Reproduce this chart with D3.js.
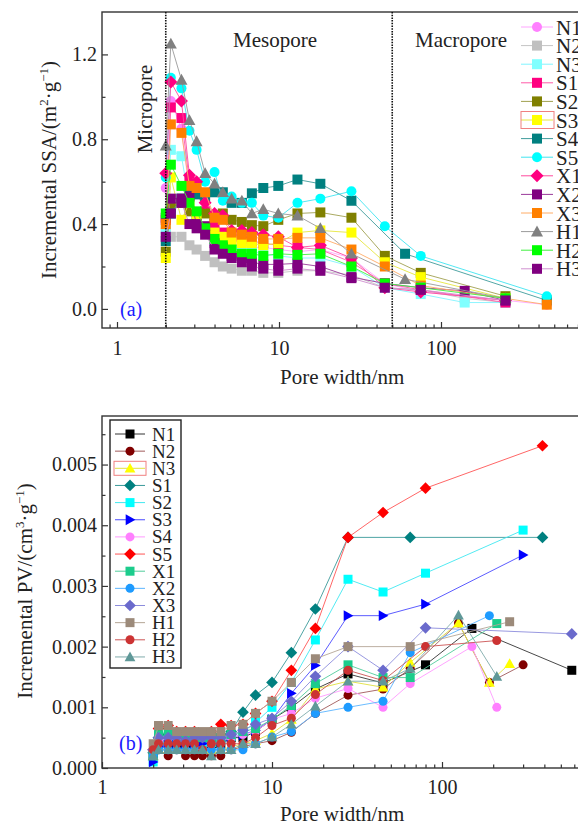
<!DOCTYPE html>
<html lang="en">
<head>
<meta charset="utf-8">
<title>Incremental SSA and PV vs pore width</title>
<script src="https://cdn.jsdelivr.net/npm/d3@7"></script>
<style>
  body { margin: 0; background: #fff; }
  svg { display: block; }
  text { font-family: "Liberation Serif", "DejaVu Serif", "Times New Roman", serif; }
  .tick text { font-size: 20px; fill: #222; }
  .tick line { stroke: #333; stroke-width: 1.2px; }
  .lbl { font-size: 21px; fill: #222; }
</style>
</head>
<body>
<svg width="578" height="823"></svg>
<script>
// ---------- (a) incremental SSA, m2/g ----------
const ssaWidth = [2.0, 2.15, 2.5, 2.8, 3.1, 3.5, 4.0, 4.5, 5.1, 5.9, 6.8, 8.0, 9.9, 13, 18, 28, 45, 60, 75, 140, 250, 450];
const ssaN1 = [0.57, 0.98, 0.85, 0.55, 0.45, 0.38, 0.34, 0.32, 0.30, 0.30, 0.29, 0.29, 0.28, 0.27, 0.28, 0.24, 0.12, null, 0.08, 0.06, null, 0.02];
const ssaN2 = [0.36, 0.34, 0.34, 0.30, 0.28, 0.25, 0.22, 0.20, 0.19, 0.18, 0.18, 0.17, 0.17, 0.18, 0.18, 0.16, 0.10, null, 0.09, 0.05, 0.03, null];
const ssaN3 = [0.38, 0.75, 0.72, 0.50, 0.42, 0.36, 0.32, 0.30, 0.28, 0.28, 0.27, 0.26, 0.25, 0.24, 0.24, 0.20, 0.10, null, 0.07, 0.03, 0.03, null];
const ssaS1 = [0.42, 0.95, 0.90, 0.60, 0.55, 0.46, 0.40, 0.36, 0.34, 0.33, 0.32, 0.31, 0.30, 0.29, 0.28, 0.22, 0.12, null, 0.09, null, 0.03, null];
const ssaS2 = [0.27, 0.48, 0.50, 0.46, 0.44, 0.45, 0.44, 0.45, 0.42, 0.41, 0.395, 0.39, 0.42, 0.45, 0.455, 0.43, 0.25, null, 0.17, null, 0.06, null];
const ssaS3 = [0.24, 0.62, 0.42, 0.50, 0.42, 0.37, 0.36, 0.34, 0.32, 0.31, 0.31, 0.30, 0.31, 0.36, 0.37, 0.36, 0.22, null, 0.15, null, 0.05, null];
const ssaS4 = [0.32, 0.45, 0.52, 0.54, 0.54, 0.53, 0.55, 0.55, 0.50, 0.50, 0.545, 0.57, 0.58, 0.61, 0.59, 0.51, null, 0.26, null, null, null, 0.04];
const ssaS5 = [0.62, 1.09, 1.04, 0.84, 0.75, 0.60, 0.645, 0.51, 0.53, 0.50, 0.50, 0.44, 0.43, 0.50, 0.52, 0.555, 0.39, null, 0.25, null, null, 0.06];
const ssaX1 = [0.64, 1.07, 0.98, 0.63, 0.60, 0.50, 0.45, 0.44, 0.37, 0.37, 0.36, 0.35, 0.34, 0.29, 0.30, 0.24, 0.10, null, 0.08, null, 0.04, null];
const ssaX2 = [0.43, 0.52, 0.52, 0.53, 0.40, 0.39, 0.31, 0.29, 0.25, 0.24, 0.22, 0.21, 0.21, 0.215, 0.20, 0.15, 0.12, null, 0.10, 0.085, 0.04, null];
const ssaX3 = [0.40, 0.87, 0.83, 0.58, 0.57, 0.55, 0.43, 0.42, 0.36, 0.35, 0.34, 0.33, 0.33, 0.335, 0.335, 0.28, 0.20, null, 0.11, null, null, 0.02];
const ssaH1 = [0.77, 1.25, 1.08, 0.89, 0.79, 0.64, 0.59, 0.55, 0.52, 0.51, 0.45, 0.47, 0.45, 0.44, 0.38, 0.26, null, 0.14, null, null, 0.05, null];
const ssaH2 = [0.45, 0.68, 0.58, 0.50, 0.46, 0.38, 0.33, 0.30, 0.28, 0.26, 0.26, 0.25, 0.26, 0.255, 0.26, 0.20, 0.12, null, 0.10, null, 0.05, null];
const ssaH3 = [0.34, 0.45, 0.50, 0.40, 0.38, 0.35, 0.28, 0.26, 0.24, 0.22, 0.20, 0.19, 0.18, 0.19, 0.18, 0.145, 0.10, null, 0.09, null, 0.04, null];

// ---------- (b) incremental PV, 10^-3 cm3/g ----------
const pvWidth = [2.0, 2.15, 2.45, 2.75, 3.1, 3.5, 3.9, 4.4, 5.0, 5.75, 6.75, 8.0, 10, 13, 18, 28, 45, 65, 80, 125, 150, 190, 210, 250, 300, 390, 580];
const pvN1 = [0.20, 0.40, 0.40, 0.40, 0.40, 0.40, 0.40, 0.40, 0.40, 0.50, 0.50, 0.60, 0.80, 1.00, 1.30, 1.55, 1.40, null, 1.70, null, 2.30, null, null, null, null, null, 1.61];
const pvN2 = [0.25, 0.30, 0.20, 0.30, 0.20, 0.20, 0.20, 0.20, 0.20, 0.30, 0.35, 0.40, 0.45, 0.59, 0.90, 1.20, 1.30, 1.64, null, 2.39, null, 1.41, null, null, 1.70, null, null];
const pvN3 = [0.20, 0.30, 0.30, 0.30, 0.30, 0.30, 0.30, 0.30, 0.30, 0.35, 0.40, 0.45, 0.57, 0.80, 1.30, 1.43, 1.33, 1.74, null, 2.39, null, 1.41, null, 1.72, null, null, null];
const pvS1 = [0.25, 0.50, 0.55, 0.55, 0.50, 0.50, 0.50, 0.55, 0.55, 0.60, 0.92, 1.20, 1.41, 1.90, 2.62, 3.80, null, 3.80, null, null, null, null, null, null, null, 3.80, null];
const pvS2 = [0.10, 0.35, 0.45, 0.45, 0.45, 0.45, 0.40, 0.42, 0.45, 0.52, 0.60, 0.75, 1.00, 1.41, 2.11, 3.11, 2.90, null, 3.21, null, null, null, null, null, 3.92, null, null];
const pvS3 = [0.10, 0.35, 0.40, 0.40, 0.38, 0.38, 0.40, 0.45, 0.45, 0.50, 0.55, 0.62, 0.80, 1.23, 1.69, 2.51, 2.51, null, 2.70, null, null, null, null, null, 3.51, null, null];
const pvS4 = [0.25, 0.45, 0.50, 0.50, 0.50, 0.50, 0.50, 0.50, 0.45, 0.50, 0.55, 0.60, 0.80, 0.90, 1.15, 1.31, 1.00, 1.39, null, null, 2.00, null, 1.00, null, null, null, null];
const pvS5 = [0.30, 0.65, 0.70, 0.60, 0.60, 0.60, 0.55, 0.60, 0.72, 0.70, 0.72, 0.90, 1.10, 1.61, 2.30, 3.80, 4.21, null, 4.61, null, null, null, null, null, null, 5.31, null];
const pvX1 = [0.20, 0.55, 0.60, 0.55, 0.50, 0.50, 0.50, 0.50, 0.50, 0.55, 0.60, 0.65, 0.80, 1.03, 1.39, 1.70, 1.49, 1.49, null, null, null, null, 2.38, null, null, null, null];
const pvX2 = [0.20, 0.30, 0.30, 0.30, 0.30, 0.30, 0.30, 0.30, 0.30, 0.30, 0.30, 0.40, 0.51, 0.60, 0.90, 1.00, 1.10, 1.90, null, null, null, 2.51, null, null, null, null, null];
const pvX3 = [0.30, 0.50, 0.50, 0.50, 0.45, 0.50, 0.50, 0.50, 0.50, 0.55, 0.62, 0.72, 0.82, 1.10, 1.51, 2.00, 1.61, null, 2.31, null, null, null, null, null, null, null, 2.21];
const pvH1 = [0.40, 0.70, 0.70, 0.60, 0.60, 0.60, 0.60, 0.60, 0.60, 0.70, 0.72, 0.90, 1.10, 1.41, 1.80, 2.00, null, 2.00, null, null, null, null, null, 2.41, null, null, null];
const pvH2 = [0.30, 0.40, 0.40, 0.40, 0.40, 0.40, 0.30, 0.40, 0.40, 0.40, 0.40, 0.50, 0.70, 0.82, 1.21, 1.61, 1.44, null, 2.00, null, null, null, 2.10, null, null, null, null];
const pvH3 = [0.20, 0.30, 0.30, 0.30, 0.30, 0.30, 0.30, 0.20, 0.30, 0.30, 0.40, 0.40, 0.51, 0.72, 1.02, 1.43, 1.43, 1.64, null, 2.52, null, null, 1.51, null, null, null, null];

const sampleNames = ["N1", "N2", "N3", "S1", "S2", "S3", "S4", "S5", "X1", "X2", "X3", "H1", "H2", "H3"];
const ssaValues = [ssaN1, ssaN2, ssaN3, ssaS1, ssaS2, ssaS3, ssaS4, ssaS5, ssaX1, ssaX2, ssaX3, ssaH1, ssaH2, ssaH3];
const pvNames = ["N1", "N2", "N3", "S1", "S2", "S3", "S4", "S5", "X1", "X2", "X3", "H1", "H2", "H3"];
const pvValues = [pvN1, pvN2, pvN3, pvS1, pvS2, pvS3, pvS4, pvS5, pvX1, pvX2, pvX3, pvH1, pvH2, pvH3];

const ssaTicks = [0.0, 0.4, 0.8, 1.2];
const pvTicks = [0, 1, 2, 3, 4, 5];

// styles (shape, marker fill, line colour)
const ssaStyle = [
  ["circle", "#ff80ff", "#ffa6ff"], ["square", "#c0c0c0", "#c4c4c4"], ["square", "#80ffff", "#80f4ff"],
  ["square", "#ff0080", "#ff5aa8"], ["square", "#808000", "#a0a050"], ["square", "#ffff00", "#e6e640"],
  ["square", "#008080", "#409c9c"], ["circle", "#00ffff", "#40e4f0"], ["diamond", "#ff0080", "#ff4a9e"],
  ["square", "#800080", "#9a3a9a"], ["square", "#ff8000", "#ffac66"], ["triangle", "#808080", "#9a9a9a"],
  ["square", "#00ff00", "#40f040"], ["square", "#800080", "#d090d0"]
];
const pvStyle = [
  ["square", "#000000", "#333333"], ["circle", "#800000", "#a05a5a"], ["triangle", "#ffff00", "#e0e040"],
  ["diamond", "#008080", "#3a9a9a"], ["square", "#00ffff", "#40e8f0"], ["right", "#0000ff", "#4a4aff"],
  ["circle", "#ff80ff", "#ff9aff"], ["diamond", "#ff0000", "#ff5555"], ["square", "#1ccc8c", "#50cc9c"],
  ["circle", "#1e9bff", "#5ab4ff"], ["diamond", "#6a6acc", "#8c8cdc"], ["square", "#9c8a7a", "#b4a696"],
  ["circle", "#cc3333", "#cc5555"], ["triangle", "#5f9898", "#80acac"]
];

function marker(shape, s) {
  const h = s / 2;
  if (shape === "square") return `M${-h},${-h}H${h}V${h}H${-h}Z`;
  if (shape === "circle") return `M${h},0A${h},${h} 0 1,1 ${-h},0A${h},${h} 0 1,1 ${h},0Z`;
  if (shape === "diamond") { const d = h * 1.3; return `M0,${-d}L${d},0L0,${d}L${-d},0Z`; }
  if (shape === "triangle") { const d = h * 1.2; return `M0,${-d}L${d},${d * 0.8}L${-d},${d * 0.8}Z`; }
  const d = h * 1.2; return `M${d},0L${-d * 0.8},${-d}L${-d * 0.8},${d}Z`;
}

const svg = d3.select("svg");

function minorLog(lo, hi) {
  const out = [];
  for (let e = -1; e <= 3; e++) for (let k = 2; k <= 9; k++) {
    const v = k * Math.pow(10, e);
    if (v > lo && v < hi) out.push(v);
  }
  return out;
}

function panel(cfg) {
  const g = svg.append("g");
  const x = cfg.x, y = cfg.y;
  const [x0, x1] = x.range(), [yb, yt] = y.range();

  // series
  cfg.values.forEach((vals, i) => {
    const st = cfg.style[i];
    const pts = cfg.widths.map((w, j) => [w, vals[j]]).filter(d => d[1] != null);
    g.append("path")
      .attr("d", d3.line().x(d => x(d[0])).y(d => y(d[1]))(pts))
      .attr("fill", "none").attr("stroke", st[2]).attr("stroke-width", 0.9);
    g.selectAll(null).data(pts).join("path")
      .attr("transform", d => `translate(${x(d[0])},${y(d[1])})`)
      .attr("d", marker(st[0], cfg.size)).attr("fill", st[1]);
  });

  // axes with inward ticks
  g.append("g").attr("transform", `translate(0,${yb})`)
    .call(d3.axisBottom(x).tickValues([1, 10, 100]).tickFormat(d3.format("d")).tickSize(-6).tickPadding(cfg.xPad));
  g.append("g").attr("transform", `translate(0,${yb})`)
    .call(d3.axisBottom(x).tickValues(minorLog(x.domain()[0], 1000)).tickFormat("").tickSize(-3.5));
  g.append("g").attr("transform", `translate(${x0},0)`)
    .call(d3.axisLeft(y).tickValues(cfg.yTicks).tickFormat(cfg.yFmt).tickSize(-6).tickPadding(5));
  g.append("g").attr("transform", `translate(${x0},0)`)
    .call(d3.axisLeft(y).tickValues(cfg.yMinor).tickFormat("").tickSize(-3.5));
  g.selectAll(".domain").remove();
  g.selectAll("g").attr("font-family", null);

  g.append("rect").attr("x", x0).attr("y", yt).attr("width", x1 - x0).attr("height", yb - yt)
    .attr("fill", "none").attr("stroke", "#333").attr("stroke-width", 1.4);
  return g;
}

// ---------- panel (a) ----------
const xa = d3.scaleLog().domain([0.808, 1000]).range([102, 603]);
const ya = d3.scaleLinear().domain([-0.09, 1.4]).range([328, 12]);
const ga = panel({x: xa, y: ya, widths: ssaWidth, values: ssaValues, style: ssaStyle, size: 10,
  yTicks: ssaTicks, yMinor: [0.2, 0.6, 1.0], yFmt: d3.format(".1f"), xPad: 13});

[2, 50].forEach(v => {
  ga.append("line").attr("x1", xa(v)).attr("x2", xa(v)).attr("y1", 12).attr("y2", 328)
    .attr("stroke", "#111").attr("stroke-width", 1.6).attr("stroke-dasharray", "1.5,1.2");
});
ga.append("text").attr("class", "lbl").attr("x", 233).attr("y", 47).text("Mesopore");
ga.append("text").attr("class", "lbl").attr("x", 415).attr("y", 47).text("Macropore");
ga.append("text").attr("class", "lbl").attr("text-anchor", "middle")
  .attr("transform", "translate(152,109) rotate(-90)").text("Micropore");
ga.append("text").attr("x", 120).attr("y", 316).attr("font-size", 20).attr("fill", "#1a1aff").text("(a)");

const la = ga.append("g");
sampleNames.forEach((n, i) => {
  const cy = 27 + i * 18.6, st = ssaStyle[i];
  la.append("line").attr("x1", 521).attr("x2", 553).attr("y1", cy).attr("y2", cy)
    .attr("stroke", st[2]).attr("stroke-width", 1);
  la.append("path").attr("transform", `translate(537,${cy})`).attr("d", marker(st[0], 10)).attr("fill", st[1]);
  la.append("text").attr("class", "lbl").attr("x", 556).attr("y", cy + 7.5).text(n);
  if (n === "S3") la.append("rect").attr("x", 521).attr("y", cy - 8.5).attr("width", 33).attr("height", 17)
    .attr("fill", "none").attr("stroke", "#f08080").attr("stroke-width", 1);
});

function yLabel(g, tx, ty, main, unit, power) {
  const t = g.append("text").attr("class", "lbl").attr("text-anchor", "middle")
    .attr("transform", `translate(${tx},${ty}) rotate(-90)`);
  t.append("tspan").text(main + unit);
  t.append("tspan").attr("font-size", 13).attr("dy", -8).text(power);
  t.append("tspan").attr("dy", 8).text("·g");
  t.append("tspan").attr("font-size", 13).attr("dy", -8).text("−1");
  t.append("tspan").attr("dy", 8).text(")");
}
yLabel(ga, 56, 170, "Incremental SSA/(", "m", "2");
ga.append("text").attr("class", "lbl").attr("x", 280).attr("y", 384).text("Pore width/nm");

// ---------- panel (b) ----------
const xb = d3.scaleLog().domain([1, 1000]).range([102, 612]);
const yb = d3.scaleLinear().domain([0, 5.8]).range([768, 416]);
const gb = panel({x: xb, y: yb, widths: pvWidth, values: pvValues, style: pvStyle, size: 9,
  yTicks: pvTicks, yMinor: [0.5, 1.5, 2.5, 3.5, 4.5, 5.5], yFmt: d => (d / 1000).toFixed(3), xPad: 12});

gb.append("text").attr("x", 119).attr("y", 750).attr("font-size", 20).attr("fill", "#1a1aff").text("(b)");

const lb = gb.append("g");
lb.append("rect").attr("x", 110).attr("y", 420).attr("width", 71).attr("height", 248)
  .attr("fill", "#fff").attr("stroke", "#222").attr("stroke-width", 1.4);
pvNames.forEach((n, i) => {
  const cy = 434 + i * 17.15, st = pvStyle[i];
  lb.append("line").attr("x1", 115).attr("x2", 145).attr("y1", cy).attr("y2", cy)
    .attr("stroke", st[2]).attr("stroke-width", 1);
  lb.append("path").attr("transform", `translate(130,${cy})`).attr("d", marker(st[0], 9)).attr("fill", st[1]);
  lb.append("text").attr("x", 152).attr("y", cy + 6.5).attr("font-size", 19).attr("fill", "#222").text(n);
  if (n === "N3") lb.append("rect").attr("x", 114).attr("y", cy - 7).attr("width", 32).attr("height", 14)
    .attr("fill", "none").attr("stroke", "#f08080").attr("stroke-width", 1);
});

yLabel(gb, 32, 591, "Incremental PV/(", "cm", "3");
gb.append("text").attr("class", "lbl").attr("x", 280).attr("y", 821).text("Pore width/nm");
</script>
</body>
</html>
